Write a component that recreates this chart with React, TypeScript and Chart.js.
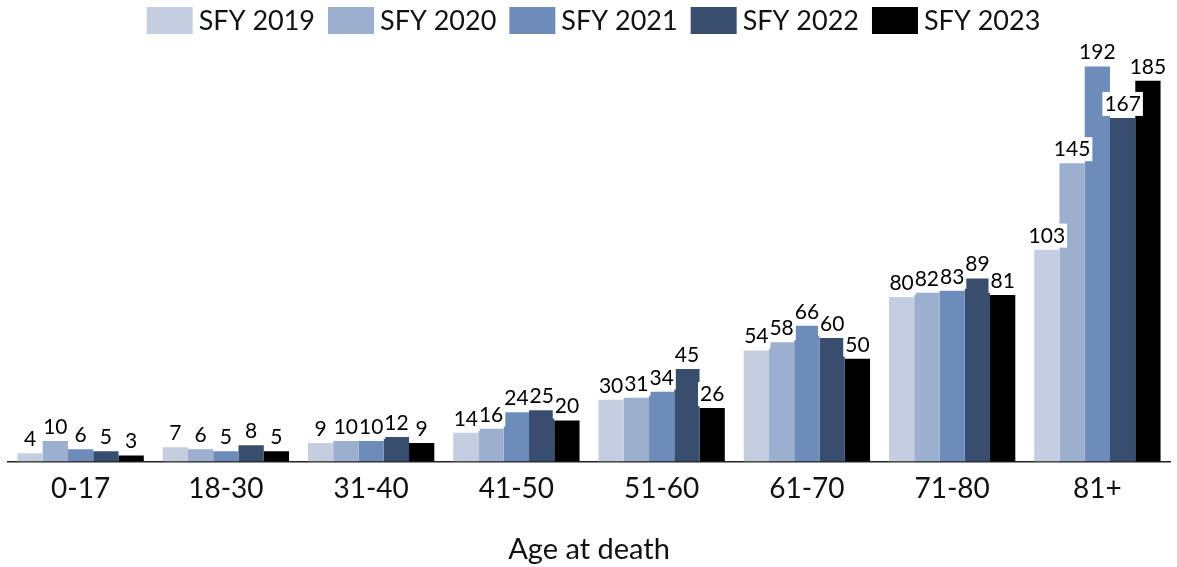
import React, { useEffect, useRef } from "react";
import { Chart, registerables } from "chart.js";

Chart.register(...registerables);

const categories = ["0-17", "18-30", "31-40", "41-50", "51-60", "61-70", "71-80", "81+"];
const seriesNames = ["SFY 2019", "SFY 2020", "SFY 2021", "SFY 2022", "SFY 2023"];
const sfy2019 = [4, 7, 9, 14, 30, 54, 80, 103];
const sfy2020 = [10, 6, 10, 16, 31, 58, 82, 145];
const sfy2021 = [6, 5, 10, 24, 34, 66, 83, 192];
const sfy2022 = [5, 8, 12, 25, 45, 60, 89, 167];
const sfy2023 = [3, 5, 9, 20, 26, 50, 81, 185];
const seriesColors = ["#C4CEE0", "#9DAFCE", "#6E8CBA", "#394D6F", "#000000"];
const FONT = "Lato, 'Open Sans', sans-serif";

const labelPlugin = {
  id: "valueLabels",
  afterDatasetsDraw(chart: any) {
    const ctx = chart.ctx;
    ctx.save();
    ctx.font = `21px ${FONT}`;
    ctx.textAlign = "center";
    ctx.textBaseline = "alphabetic";
    const items: any[] = [];
    chart.data.datasets.forEach((ds: any, di: number) => {
      const meta = chart.getDatasetMeta(di);
      meta.data.forEach((el: any, i: number) => {
        const txt = String(ds.data[i]);
        const w = ctx.measureText(txt).width;
        items.push({ x: el.x, y: el.y, txt, w });
      });
    });
    ctx.fillStyle = "#ffffff";
    items.forEach((it) => {
      ctx.fillRect(it.x - it.w / 2 - 2, it.y - 26, it.w + 4, 24);
    });
    ctx.fillStyle = "#000000";
    items.forEach((it) => {
      ctx.fillText(it.txt, it.x, it.y - 7);
    });
    ctx.restore();
  },
};

const legendPlugin = {
  id: "boxLegend",
  afterDraw(chart: any) {
    const ctx = chart.ctx;
    ctx.save();
    ctx.font = `27px ${FONT}`;
    ctx.textBaseline = "middle";
    ctx.textAlign = "left";
    const boxW = 46;
    const boxH = 27;
    const gap = 6;
    const spacing = 13;
    const ds = chart.data.datasets;
    const widths = ds.map((d: any) => boxW + gap + ctx.measureText(d.label).width);
    const total = widths.reduce((a: number, b: number) => a + b, 0) + spacing * (ds.length - 1);
    let x = chart.width / 2 - total / 2 + 5;
    const top = 7;
    ds.forEach((d: any, i: number) => {
      ctx.fillStyle = d.backgroundColor;
      ctx.fillRect(x, top, boxW, boxH);
      ctx.fillStyle = "#111";
      ctx.fillText(d.label, x + boxW + gap, top + boxH / 2 + 1);
      x += widths[i] + spacing;
    });
    ctx.restore();
  },
};

export default function App() {
  const ref = useRef<HTMLCanvasElement | null>(null);
  useEffect(() => {
    document.body.style.margin = "0";
    const all = [sfy2019, sfy2020, sfy2021, sfy2022, sfy2023];
    const chart = new Chart(ref.current as HTMLCanvasElement, {
      type: "bar",
      data: {
        labels: categories,
        datasets: all.map((d, i) => ({
          label: seriesNames[i],
          data: d,
          backgroundColor: seriesColors[i],
          borderWidth: 0,
          categoryPercentage: 0.87,
          barPercentage: 1.0,
        })),
      },
      options: {
        animation: false,
        responsive: true,
        maintainAspectRatio: false,
        layout: { padding: { left: 8, right: 7, top: 50, bottom: 0 } },
        plugins: {
          legend: { display: false },
          tooltip: { enabled: false },
        },
        scales: {
          x: {
            grid: { display: false, drawTicks: false },
            border: { display: true, color: "#222", width: 1.5 },
            ticks: { color: "#111", font: { family: FONT, size: 28 }, padding: 11 },
            title: {
              display: true,
              text: "Age at death",
              color: "#111",
              font: { family: FONT, size: 29 },
              padding: { top: 15, bottom: 0 },
            },
          },
          y: {
            display: false,
            min: 0,
            max: 200,
          },
        },
      },
      plugins: [labelPlugin, legendPlugin],
    });
    return () => chart.destroy();
  }, []);
  return (
    <div style={{ width: 1177, height: 567, position: "relative" }}>
      <canvas ref={ref} />
    </div>
  );
}
